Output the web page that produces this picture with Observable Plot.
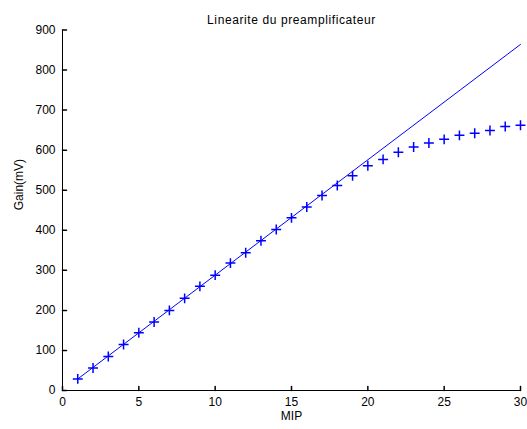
<!DOCTYPE html>
<html>
<head>
<meta charset="utf-8">
<script src="https://cdn.jsdelivr.net/npm/d3@7"></script>
<script src="https://cdn.jsdelivr.net/npm/@observablehq/plot@0.6"></script>
<style>
  html, body { margin: 0; padding: 0; background: #fff; }
  #chart svg { display: block; }
</style>
</head>
<body>
<div id="chart"></div>
<script>
// Measured preamplifier output (mV) for 1..30 MIP
const mip = [1, 2, 3, 4, 5, 6, 7, 8, 9, 10, 11, 12, 13, 14, 15,
             16, 17, 18, 19, 20, 21, 22, 23, 24, 25, 26, 27, 28, 29, 30];
const gain = [29, 56, 85, 115, 144, 171, 200, 230, 260, 288, 318, 344, 374, 402, 431,
              458, 487, 512, 536, 561, 577, 595, 608, 618, 627, 637, 642, 649, 659, 662];

// Linear fit through the low-charge region
const fitX = [1, 30];
const fitY = [28.8, 864];

const xTicks = [0, 5, 10, 15, 20, 25, 30];
const yTicks = [0, 100, 200, 300, 400, 500, 600, 700, 800, 900];

const title = "Linearite du preamplificateur";
const xLabel = "MIP";
const yLabel = "Gain(mV)";

const points = mip.map((x, i) => ({x, y: gain[i]}));
const fit = fitX.map((x, i) => ({x, y: fitY[i]}));

// Short inward tick segments
const tickUp = {draw(ctx, l) { ctx.moveTo(0, 0); ctx.lineTo(0, -l); }};
const tickRight = {draw(ctx, l) { ctx.moveTo(0, 0); ctx.lineTo(l, 0); }};

const chart = Plot.plot({
  width: 527,
  height: 429,
  marginLeft: 62,
  marginRight: 7,
  marginTop: 29.5,
  marginBottom: 39,
  style: {fontFamily: "'Liberation Sans', Arial, sans-serif", fontSize: "12px", color: "#000", background: "#fff"},
  x: {domain: [0, 30]},
  y: {domain: [0, 900]},
  marks: [
    Plot.axisX({ticks: xTicks, tickSize: 0, tickPadding: 7, label: null, fontSize: 12}),
    Plot.axisY({ticks: yTicks, tickSize: 0, tickPadding: 7, label: null, fontSize: 12}),
    Plot.vector(xTicks, {x: d => d, y: 0, length: 4, anchor: "start", shape: tickUp, stroke: "#000"}),
    Plot.vector(yTicks, {x: 0, y: d => d, length: 4, anchor: "start", shape: tickRight, stroke: "#000"}),
    Plot.ruleY([0], {x1: 0, x2: 30, stroke: "#000"}),
    Plot.ruleX([0], {y1: 0, y2: 900, stroke: "#000"}),
    Plot.line(fit, {x: "x", y: "y", stroke: "#0000ff", strokeWidth: 1}),
    Plot.dot(points, {x: "x", y: "y", symbol: "plus", r: 3.3, stroke: "#0000ff", strokeWidth: 1.5}),
    Plot.text([title], {frameAnchor: "top", dy: -14.2, fontSize: 12, fill: "#000"}),
    Plot.text([xLabel], {frameAnchor: "bottom", dy: 29.5, fontSize: 12, fill: "#000"}),
    Plot.text([yLabel], {frameAnchor: "left", dx: -43, rotate: -90, fontSize: 12, fill: "#000"})
  ]
});

// Slightly looser tracking for the title
chart.querySelectorAll("text").forEach(t => {
  if (t.textContent === title) t.setAttribute("letter-spacing", "0.6");
});

document.getElementById("chart").appendChild(chart);
</script>
</body>
</html>
